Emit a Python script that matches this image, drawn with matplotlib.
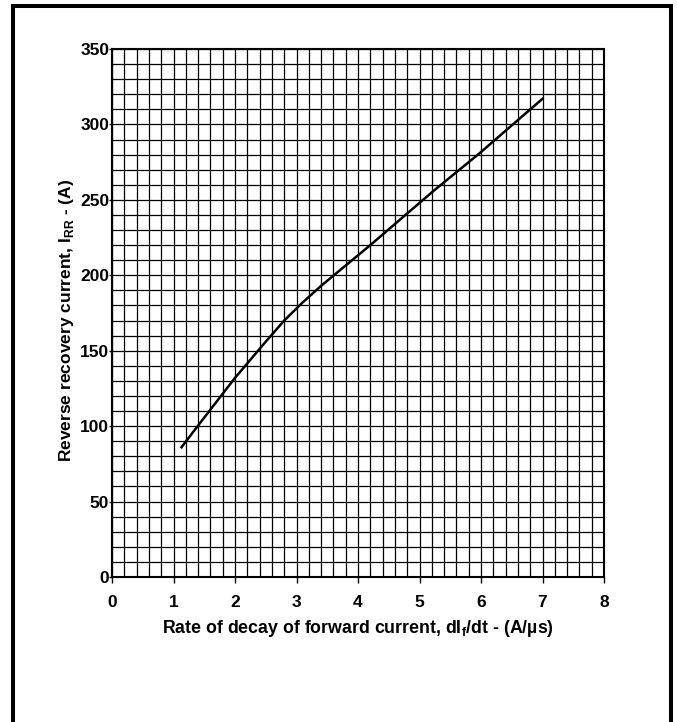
import matplotlib
matplotlib.use('Agg')
import matplotlib.pyplot as plt
from matplotlib.patches import Rectangle
from matplotlib.ticker import MultipleLocator

# curve:
di_dt = [1.13, 1.43, 2.0, 2.5, 2.8, 3.1, 3.4, 4.2, 5.23, 5.98, 7.0]
i_rr = [86, 102, 132, 156, 170, 182, 193, 220, 256, 281, 317]

x_ticks = [0, 1, 2, 3, 4, 5, 6, 7, 8]
y_ticks = [0, 50, 100, 150, 200, 250, 300, 350]

plt.rcParams['font.family'] = ['Liberation Sans', 'DejaVu Sans']
plt.rcParams['mathtext.fontset'] = 'custom'
plt.rcParams['mathtext.bf'] = 'Liberation Sans:bold'
plt.rcParams['mathtext.rm'] = 'Liberation Sans:bold'

fig = plt.figure(figsize=(6.77, 7.22), dpi=100)
ax = fig.add_axes([112/677, 145/722, 492/677, 528/722])

# outer frame, bottom edge runs off the page
fig.patches.append(Rectangle((13/677, -0.1), 658/677, 1.1 - 5.5/722,
                             transform=fig.transFigure, fill=False,
                             edgecolor='black', linewidth=2.9))

ax.plot(di_dt, i_rr, color='black', linewidth=1.8, zorder=3,
        solid_joinstyle='round')

ax.set_xlim(0, 8)
ax.set_ylim(0, 350)
ax.set_xticks(x_ticks)
ax.set_yticks(y_ticks)
ax.xaxis.set_minor_locator(MultipleLocator(0.2))
ax.yaxis.set_minor_locator(MultipleLocator(10))
ax.grid(which='both', color='black', linewidth=0.9)
ax.tick_params(which='minor', length=0)
ax.tick_params(axis='x', which='major', direction='out', length=4, width=1,
               labelsize=12.5, pad=9)
ax.tick_params(axis='y', which='major', direction='out', length=2, width=1,
               labelsize=12.5, pad=0)
for lab in ax.get_xticklabels() + ax.get_yticklabels():
    lab.set_fontweight('bold')
for s in ax.spines.values():
    s.set_linewidth(1.5)

ax.set_xlabel(r'Rate of decay of forward current, dI$_\mathbf{f}$/dt - (A/µs)',
              fontsize=12.8, fontweight='bold', labelpad=6)
ax.set_ylabel(r'Reverse recovery current, I$_\mathbf{RR}$ - (A)',
              fontsize=12.5, fontweight='bold')
ax.yaxis.set_label_coords(-0.073, 0.485)

fig.savefig('out.png', dpi=100)
